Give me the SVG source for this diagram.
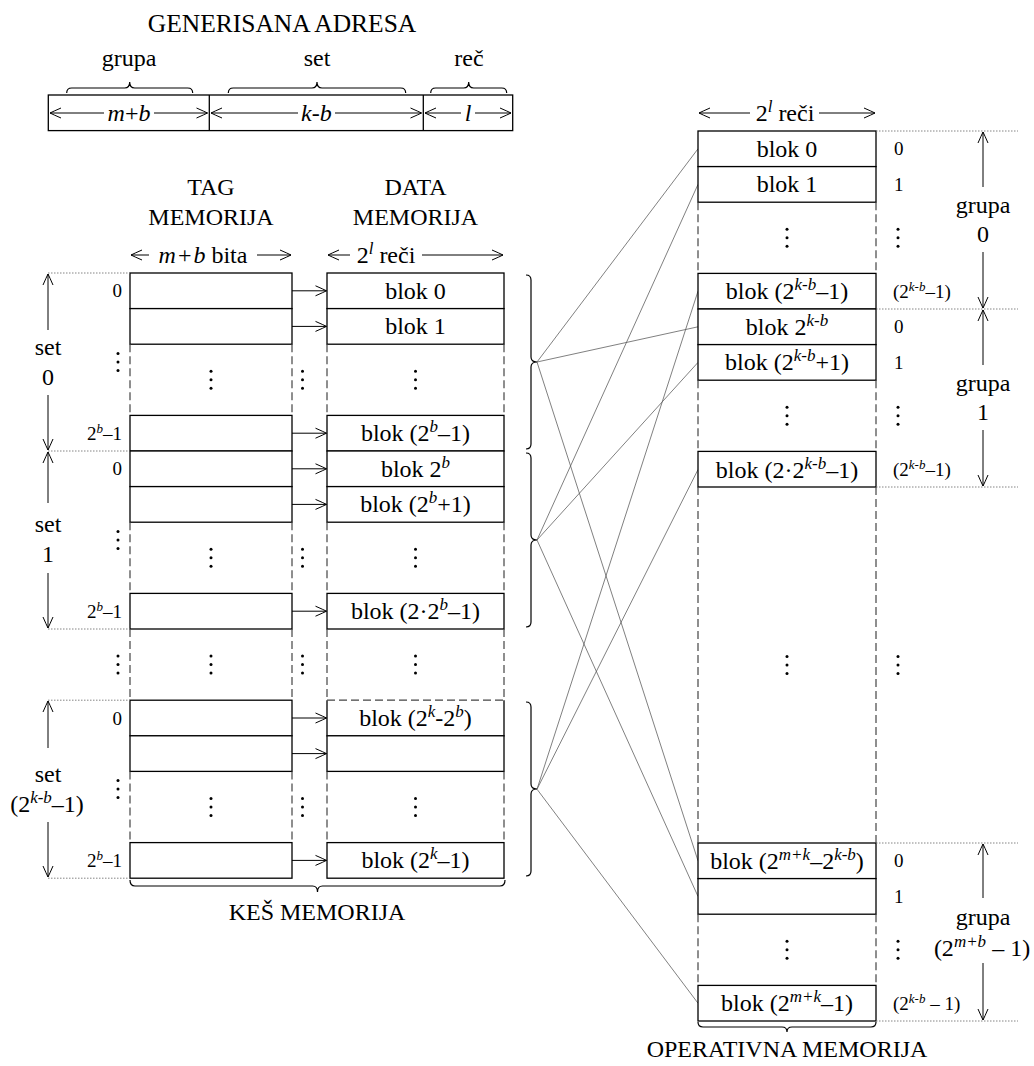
<svg xmlns="http://www.w3.org/2000/svg" width="1034" height="1066" viewBox="0 0 1034 1066">
<defs>
<style>
.t{font-family:"Liberation Serif","Times New Roman",serif;font-size:24px;fill:#000}
.m{text-anchor:middle}
.e{text-anchor:end}
.s{font-size:19px}
.i{font-style:italic}
.sup{font-size:17px;font-style:italic}
.ss{font-size:13px;font-style:italic}
.box{fill:#fff;stroke:#000;stroke-width:1.3}
.ln{fill:none;stroke:#000;stroke-width:1.3}
.dash{fill:none;stroke:#444;stroke-width:1.2;stroke-dasharray:8 4}
.dot{fill:none;stroke:#777;stroke-width:0.9;stroke-dasharray:1.5 1.5}
.dim{fill:none;stroke:#000;stroke-width:1;marker-end:url(#ah)}
.conn{fill:none;stroke:#555;stroke-width:0.75}
.br{fill:none;stroke:#000;stroke-width:1.2}
.vd{fill:#000}
</style>
<marker id="ah" viewBox="-12 -6 13 12" refX="0" refY="0" markerWidth="13" markerHeight="12" markerUnits="userSpaceOnUse" orient="auto" overflow="visible"><path d="M-11,-5 Q-3,-1.5 0,0 Q-3,1.5 -11,5" fill="none" stroke="#000" stroke-width="1"/></marker>
<g id="vd" class="vd"><circle cx="0" cy="-8.5" r="1.5"/><circle cx="0" cy="0" r="1.5"/><circle cx="0" cy="8.5" r="1.5"/></g>
</defs>
<rect width="1034" height="1066" fill="#fff"/>

<!-- connectors -->
<g id="connectors">
<line class="conn" x1="537" y1="362" x2="698" y2="148.8"/>
<line class="conn" x1="537" y1="362" x2="698" y2="326.8"/>
<line class="conn" x1="537" y1="362" x2="698" y2="860.8"/>
<line class="conn" x1="537" y1="540" x2="698" y2="184.4"/>
<line class="conn" x1="537" y1="540" x2="698" y2="362.4"/>
<line class="conn" x1="537" y1="540" x2="698" y2="896.4"/>
<line class="conn" x1="537" y1="789.2" x2="698" y2="291.2"/>
<line class="conn" x1="537" y1="789.2" x2="698" y2="469.6"/>
<line class="conn" x1="537" y1="789.2" x2="698" y2="1003.2"/>
</g>

<!-- generated address -->
<g id="address">
<text class="t m" x="282" y="32" style="font-size:25.5px">GENERISANA ADRESA</text>
<text class="t m" x="129" y="66">grupa</text>
<text class="t m" x="317" y="66">set</text>
<text class="t m" x="469" y="66">reč</text>
<path class="br" d="M66.7,93 Q66.7,88 71.7,88 L124.7,88 Q129.7,88 129.7,82 Q129.7,88 134.7,88 L187.7,88 Q192.7,88 192.7,93"/>
<path class="br" d="M228.3,93 Q228.3,88 233.3,88 L312,88 Q317,88 317,82 Q317,88 322,88 L400.7,88 Q405.7,88 405.7,93"/>
<path class="br" d="M430.7,93 Q430.7,88 435.7,88 L463.7,88 Q468.7,88 468.7,82 Q468.7,88 473.7,88 L501.7,88 Q506.7,88 506.7,93"/>
<rect class="box" x="48.3" y="95" width="464.4" height="35.6"/>
<line class="ln" x1="209.3" y1="95" x2="209.3" y2="130.6"/>
<line class="ln" x1="423.3" y1="95" x2="423.3" y2="130.6"/>
<line class="dim" x1="104" y1="113" x2="50" y2="113"/>
<line class="dim" x1="154" y1="113" x2="207.5" y2="113"/>
<text class="t m i" x="129" y="121">m<tspan font-style="normal">+</tspan>b</text>
<line class="dim" x1="298" y1="113" x2="211" y2="113"/>
<line class="dim" x1="335" y1="113" x2="421.5" y2="113"/>
<text class="t m i" x="316.3" y="121">k<tspan font-style="normal">-</tspan>b</text>
<line class="dim" x1="461" y1="113" x2="425" y2="113"/>
<line class="dim" x1="475" y1="113" x2="511" y2="113"/>
<text class="t m i" x="468" y="121">l</text>
</g>

<!-- tag memory -->
<g id="tag-memory">
<text class="t m" x="211" y="195">TAG</text>
<text class="t m" x="211" y="225">MEMORIJA</text>
<line class="dim" x1="149" y1="255" x2="131" y2="255"/>
<line class="dim" x1="257" y1="255" x2="291" y2="255"/>
<text class="t m" x="203" y="263"><tspan class="i">m</tspan><tspan dx="2">+</tspan><tspan class="i" dx="2">b</tspan> bita</text>
<rect class="box" x="130" y="273" width="162" height="35.6"/>
<rect class="box" x="130" y="308.6" width="162" height="35.6"/>
<rect class="box" x="130" y="415.4" width="162" height="35.6"/>
<rect class="box" x="130" y="451" width="162" height="35.6"/>
<rect class="box" x="130" y="486.6" width="162" height="35.6"/>
<rect class="box" x="130" y="593.4" width="162" height="35.6"/>
<rect class="box" x="130" y="700.2" width="162" height="35.6"/>
<rect class="box" x="130" y="735.8" width="162" height="35.6"/>
<rect class="box" x="130" y="842.6" width="162" height="35.6"/>
<path class="dash" d="M130,344.2V415.4M292,344.2V415.4M130,522.2V593.4M292,522.2V593.4M130,629V700.2M292,629V700.2M130,771.4V842.6M292,771.4V842.6"/>
<use href="#vd" x="211" y="379.8"/>
<use href="#vd" x="211" y="557.8"/>
<use href="#vd" x="211" y="664.6"/>
<use href="#vd" x="211" y="807"/>
</g>

<!-- tag to data arrows -->
<g id="tag-data-arrows">
<line class="dim" x1="292" y1="290.8" x2="326.5" y2="290.8"/>
<line class="dim" x1="292" y1="326.4" x2="326.5" y2="326.4"/>
<line class="dim" x1="292" y1="433.2" x2="326.5" y2="433.2"/>
<line class="dim" x1="292" y1="468.8" x2="326.5" y2="468.8"/>
<line class="dim" x1="292" y1="504.4" x2="326.5" y2="504.4"/>
<line class="dim" x1="292" y1="611.2" x2="326.5" y2="611.2"/>
<line class="dim" x1="292" y1="718" x2="326.5" y2="718"/>
<line class="dim" x1="292" y1="753.6" x2="326.5" y2="753.6"/>
<line class="dim" x1="292" y1="860.4" x2="326.5" y2="860.4"/>
<use href="#vd" x="302.5" y="379.8"/>
<use href="#vd" x="302.5" y="557.8"/>
<use href="#vd" x="302.5" y="664.6"/>
<use href="#vd" x="302.5" y="807"/>
</g>

<!-- data memory -->
<g id="data-memory">
<text class="t m" x="415.5" y="195">DATA</text>
<text class="t m" x="415.5" y="225">MEMORIJA</text>
<line class="dim" x1="350" y1="255" x2="328" y2="255"/>
<line class="dim" x1="422" y1="255" x2="503" y2="255"/>
<text class="t m" x="386" y="263">2<tspan class="sup" dy="-9">l</tspan><tspan dy="9"> reči</tspan></text>
<rect class="box" x="327" y="273" width="177" height="35.6"/>
<rect class="box" x="327" y="308.6" width="177" height="35.6"/>
<rect class="box" x="327" y="415.4" width="177" height="35.6"/>
<rect class="box" x="327" y="451" width="177" height="35.6"/>
<rect class="box" x="327" y="486.6" width="177" height="35.6"/>
<rect class="box" x="327" y="593.4" width="177" height="35.6"/>
<path class="ln" d="M327,700.2V735.8H504V700.2"/>
<line class="dash" x1="327" y1="700.2" x2="504" y2="700.2"/>
<rect class="box" x="327" y="735.8" width="177" height="35.6"/>
<rect class="box" x="327" y="842.6" width="177" height="35.6"/>
<path class="dash" d="M327,344.2V415.4M504,344.2V415.4M327,522.2V593.4M504,522.2V593.4M327,629V700.2M504,629V700.2M327,771.4V842.6M504,771.4V842.6"/>
<text class="t m" x="415.5" y="298.8">blok 0</text>
<text class="t m" x="415.5" y="334.4">blok 1</text>
<text class="t m" x="415.5" y="441.2">blok (2<tspan class="sup" dy="-9">b</tspan><tspan dy="9">–1)</tspan></text>
<text class="t m" x="415.5" y="476.8">blok 2<tspan class="sup" dy="-9">b</tspan></text>
<text class="t m" x="415.5" y="512.4">blok (2<tspan class="sup" dy="-9">b</tspan><tspan dy="9">+1)</tspan></text>
<text class="t m" x="415.5" y="619.2">blok (2·2<tspan class="sup" dy="-9">b</tspan><tspan dy="9">–1)</tspan></text>
<text class="t m" x="415.5" y="726">blok (2<tspan class="sup" dy="-9">k</tspan><tspan dy="9">-2</tspan><tspan class="sup" dy="-9">b</tspan><tspan dy="9">)</tspan></text>
<text class="t m" x="415.5" y="868.4">blok (2<tspan class="sup" dy="-9">k</tspan><tspan dy="9">–1)</tspan></text>
<use href="#vd" x="415.5" y="379.8"/>
<use href="#vd" x="415.5" y="557.8"/>
<use href="#vd" x="415.5" y="664.6"/>
<use href="#vd" x="415.5" y="807"/>
</g>

<!-- set labels (left) -->
<g id="set-labels">
<path class="dot" d="M48,273H130M48,451H130M48,629H130M48,700.2H130M48,878.2H130"/>
<line class="dim" x1="48" y1="330" x2="48" y2="274"/>
<line class="dim" x1="48" y1="395" x2="48" y2="450"/>
<line class="dim" x1="48" y1="503" x2="48" y2="452"/>
<line class="dim" x1="48" y1="573" x2="48" y2="628"/>
<line class="dim" x1="48" y1="748" x2="48" y2="701"/>
<line class="dim" x1="48" y1="822" x2="48" y2="877"/>
<text class="t m" x="48" y="355">set</text>
<text class="t m" x="48" y="384.5">0</text>
<text class="t m" x="48" y="532">set</text>
<text class="t m" x="48" y="562">1</text>
<text class="t m" x="48" y="782">set</text>
<text class="t m" x="47" y="812">(2<tspan class="sup" dy="-9">k-b</tspan><tspan dy="9">–1)</tspan></text>
<text class="t s e" x="122" y="297.3">0</text>
<text class="t s e" x="122" y="439.7">2<tspan class="ss" dy="-7">b</tspan><tspan dy="7">–1</tspan></text>
<text class="t s e" x="122" y="475.3">0</text>
<text class="t s e" x="122" y="617.7">2<tspan class="ss" dy="-7">b</tspan><tspan dy="7">–1</tspan></text>
<text class="t s e" x="122" y="724.5">0</text>
<text class="t s e" x="122" y="866.9">2<tspan class="ss" dy="-7">b</tspan><tspan dy="7">–1</tspan></text>
<use href="#vd" x="118" y="362"/>
<use href="#vd" x="118" y="540"/>
<use href="#vd" x="118" y="664.6"/>
<use href="#vd" x="118" y="789"/>
</g>

<!-- set braces -->
<g id="set-braces">
<path class="br" d="M526,275 Q531,275 531,280 L531,357 Q531,362 537,362 Q531,362 531,367 L531,444 Q531,449 526,449"/>
<path class="br" d="M526,453 Q531,453 531,458 L531,535 Q531,540 537,540 Q531,540 531,545 L531,622 Q531,627 526,627"/>
<path class="br" d="M526,702 Q531,702 531,707 L531,784 Q531,789 537,789 Q531,789 531,794 L531,871 Q531,876 526,876"/>
</g>

<!-- cache label -->
<g id="cache-label">
<path class="br" d="M130,880 Q130,886 135,886 L312.5,886 Q317.5,886 317.5,892 Q317.5,886 322.5,886 L500,886 Q505,886 505,880"/>
<text class="t m" x="317" y="920">KEŠ MEMORIJA</text>
</g>

<!-- operating memory -->
<g id="main-memory">
<line class="dim" x1="750" y1="113" x2="699" y2="113"/>
<line class="dim" x1="819" y1="113" x2="875" y2="113"/>
<text class="t m" x="785" y="121">2<tspan class="sup" dy="-9">l</tspan><tspan dy="9"> reči</tspan></text>
<rect class="box" x="698" y="131" width="178" height="35.6"/>
<rect class="box" x="698" y="166.6" width="178" height="35.6"/>
<rect class="box" x="698" y="273.4" width="178" height="35.6"/>
<rect class="box" x="698" y="309" width="178" height="35.6"/>
<rect class="box" x="698" y="344.6" width="178" height="35.6"/>
<rect class="box" x="698" y="451.4" width="178" height="35.6"/>
<rect class="box" x="698" y="843" width="178" height="35.6"/>
<rect class="box" x="698" y="878.6" width="178" height="35.6"/>
<rect class="box" x="698" y="985.4" width="178" height="35.6"/>
<path class="dash" d="M698,202.2V273.4M876,202.2V273.4M698,380.2V451.4M876,380.2V451.4M698,487V843M876,487V843M698,914.2V985.4M876,914.2V985.4"/>
<text class="t m" x="787" y="156.8">blok 0</text>
<text class="t m" x="787" y="192.4">blok 1</text>
<text class="t m" x="787" y="299.2">blok (2<tspan class="sup" dy="-9">k-b</tspan><tspan dy="9">–1)</tspan></text>
<text class="t m" x="787" y="334.8">blok 2<tspan class="sup" dy="-9">k-b</tspan></text>
<text class="t m" x="787" y="370.4">blok (2<tspan class="sup" dy="-9">k-b</tspan><tspan dy="9">+1)</tspan></text>
<text class="t m" x="787" y="477.6">blok (2·2<tspan class="sup" dy="-9">k-b</tspan><tspan dy="9">–1)</tspan></text>
<text class="t m" x="787" y="868.8">blok (2<tspan class="sup" dy="-9">m+k</tspan><tspan dy="9">–2</tspan><tspan class="sup" dy="-9">k-b</tspan><tspan dy="9">)</tspan></text>
<text class="t m" x="787" y="1011.2">blok (2<tspan class="sup" dy="-9">m+k</tspan><tspan dy="9">–1)</tspan></text>
<use href="#vd" x="787" y="237.8"/>
<use href="#vd" x="787" y="415.8"/>
<use href="#vd" x="787" y="665"/>
<use href="#vd" x="787" y="949.8"/>
<path class="br" d="M698,1022 Q698,1027 703,1027 L782,1027 Q787,1027 787,1032 Q787,1027 792,1027 L871,1027 Q876,1027 876,1022"/>
<text class="t m" x="787" y="1057">OPERATIVNA MEMORIJA</text>
</g>

<!-- group labels (right) -->
<g id="group-labels">
<path class="dot" d="M876,131H1018M876,309H1018M876,487H1018M876,843H1018M876,1021H1018"/>
<text class="t s" x="894" y="155.3">0</text>
<text class="t s" x="894" y="190.9">1</text>
<text class="t s" x="893" y="297.7">(2<tspan class="ss" dy="-7">k-b</tspan><tspan dy="7">–1)</tspan></text>
<text class="t s" x="894" y="333.3">0</text>
<text class="t s" x="894" y="368.9">1</text>
<text class="t s" x="893" y="476.1">(2<tspan class="ss" dy="-7">k-b</tspan><tspan dy="7">–1)</tspan></text>
<text class="t s" x="894" y="867.3">0</text>
<text class="t s" x="894" y="902.9">1</text>
<text class="t s" x="893" y="1009.7">(2<tspan class="ss" dy="-7">k-b</tspan><tspan dy="7"> – 1)</tspan></text>
<use href="#vd" x="898" y="237.8"/>
<use href="#vd" x="898" y="415.8"/>
<use href="#vd" x="898" y="665"/>
<use href="#vd" x="898" y="949.8"/>
<line class="dim" x1="983" y1="187" x2="983" y2="132"/>
<line class="dim" x1="983" y1="252" x2="983" y2="308"/>
<line class="dim" x1="983" y1="365" x2="983" y2="310"/>
<line class="dim" x1="983" y1="430" x2="983" y2="486"/>
<line class="dim" x1="983" y1="898" x2="983" y2="844"/>
<line class="dim" x1="983" y1="963" x2="983" y2="1020"/>
<text class="t m" x="983" y="213">grupa</text>
<text class="t m" x="983" y="242">0</text>
<text class="t m" x="983" y="391">grupa</text>
<text class="t m" x="983" y="420">1</text>
<text class="t m" x="983" y="925">grupa</text>
<text class="t m" x="982" y="956">(2<tspan class="sup" dy="-9">m+b</tspan><tspan dy="9"> – 1)</tspan></text>
</g>
</svg>
